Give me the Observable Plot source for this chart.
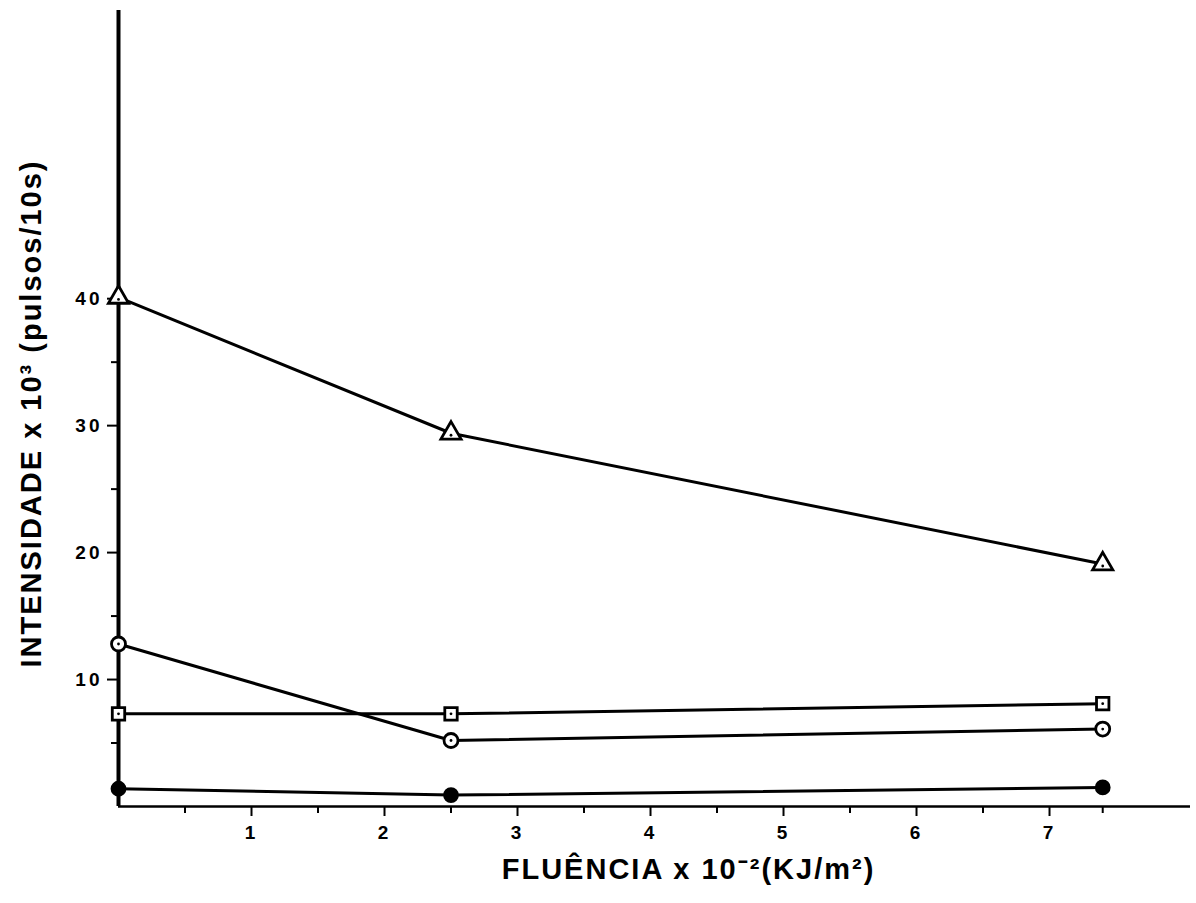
<!DOCTYPE html>
<html>
<head>
<meta charset="utf-8">
<script src="https://cdn.jsdelivr.net/npm/d3@7"></script>
<script src="https://cdn.jsdelivr.net/npm/@observablehq/plot@0.6"></script>
<style>
  html, body { margin: 0; padding: 0; background: #fff; }
  #chart svg { display: block; }
</style>
</head>
<body>
<div id="chart"></div>
<script>
// Fluence values (x 10^-2 KJ/m^2)
const fluencia = [0, 2.5, 7.4];
// Intensity series (x 10^3 pulses / 10 s)
const serieTriangulo = [40.1, 29.4, 19.1];
const serieCirculoAberto = [12.8, 5.2, 6.1];
const serieQuadrado = [7.3, 7.3, 8.1];
const serieCirculoCheio = [1.4, 0.9, 1.5];

const xTicksMajor = [1, 2, 3, 4, 5, 6, 7];
const xTicksMinor = [0.5, 1.5, 2.5, 3.5, 4.5, 5.5, 6.5, 7.4];
const yTicksMajor = [10, 20, 30, 40];
const yTicksMinor = [5, 15, 25, 35];

const tituloY = "INTENSIDADE x 10³ (pulsos/10s)";
const tituloX = "FLUÊNCIA x 10⁻²(KJ/m²)";

const series = [
  {name: "triangulo", values: serieTriangulo, symbol: "triangle", fill: "white", r: 7.5},
  {name: "circuloAberto", values: serieCirculoAberto, symbol: "circle", fill: "white", r: 7},
  {name: "quadrado", values: serieQuadrado, symbol: "square", fill: "white", r: 7},
  {name: "circuloCheio", values: serieCirculoCheio, symbol: "circle", fill: "black", r: 6.5}
];
const rows = series.flatMap(s => s.values.map((v, i) => ({serie: s.name, x: fluencia[i], y: v})));
const font = "'Liberation Sans', Arial, sans-serif";

const marks = [
  Plot.ruleY([0], {stroke: "black", strokeWidth: 2.5}),
  Plot.ruleX([0], {stroke: "black", strokeWidth: 4}),
  Plot.axisX({ticks: xTicksMajor, tickSize: 10, tickPadding: 9, tickFormat: d => String(d), label: null,
    fontSize: 19, fontWeight: "bold", strokeWidth: 2}),
  Plot.axisX({ticks: xTicksMinor, tickSize: 7, text: null, label: null, strokeWidth: 2}),
  Plot.axisY({ticks: yTicksMajor, tickSize: 11, tickPadding: 5, tickFormat: d => String(d), label: null,
    fontSize: 19, fontWeight: "bold", strokeWidth: 2}),
  Plot.axisY({ticks: yTicksMinor, tickSize: 7, text: null, label: null, strokeWidth: 2}),
  Plot.line(rows, {x: "x", y: "y", z: "serie", stroke: "black", strokeWidth: 3})
];
for (const s of series) {
  const pts = s.values.map((v, i) => ({x: fluencia[i], y: v}));
  marks.push(Plot.dot(pts, {x: "x", y: "y", symbol: s.symbol, r: s.r, fill: s.fill, stroke: "black", strokeWidth: 2.8}));
  if (s.fill === "white") {
    marks.push(Plot.dot(pts, {x: "x", y: "y", r: 1.4, fill: "black", dy: s.symbol === "triangle" ? 2 : 0}));
  }
}
marks.push(
  Plot.text([tituloY], {frameAnchor: "left", textAnchor: "middle", rotate: -90, dx: -87, dy: 5, text: d => d,
    fontSize: 29, fontWeight: "bold", fill: "black"}),
  Plot.text([tituloX], {frameAnchor: "bottom", textAnchor: "middle", dx: 34, dy: 72, text: d => d,
    fontSize: 29, fontWeight: "bold", fill: "black"})
);

const chart = Plot.plot({
  width: 1196,
  height: 903,
  marginLeft: 118,
  marginRight: 6,
  marginTop: 10,
  marginBottom: 97,
  style: {fontFamily: font, background: "white", color: "black", overflow: "visible"},
  x: {domain: [0, 8.06]},
  y: {domain: [0, 62.7]},
  marks
});
d3.select(chart).selectAll("text")
  .filter(function() { return this.textContent === tituloY || this.textContent === tituloX; })
  .style("letter-spacing", "2px");
d3.select(chart).selectAll("g[aria-label='y-axis tick label'] text, g[aria-label='x-axis tick label'] text")
  .style("letter-spacing", "3px");
document.getElementById("chart").appendChild(chart);
</script>
</body>
</html>
